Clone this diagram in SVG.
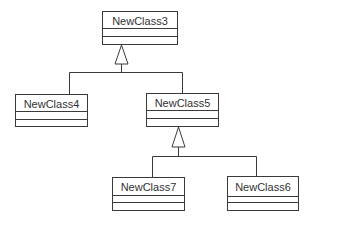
<svg xmlns="http://www.w3.org/2000/svg" width="337" height="237" viewBox="0 0 337 237">
<style>
.box{fill:#fff;stroke:#3a3a3a;stroke-width:1}
.sep{stroke:#3a3a3a;stroke-width:1}
.lbl{font-family:"Liberation Sans",Arial,sans-serif;font-size:11px;fill:#333;text-anchor:middle}
.edge{fill:none;stroke:#3a3a3a;stroke-width:1}
.tri{fill:#fff;stroke:#3a3a3a;stroke-width:1}
</style>
<rect width="337" height="237" fill="#fff"/>
<g id="connectors">
<path class="edge" d="M121.5 64 V72.5 M69.5 94.5 V72.5 H182.5 V93.5"/>
<polygon class="tri" points="121.5,45 115,64 128,64"/>
<path class="edge" d="M178.5 147 V156.5 M152.5 177.5 V156.5 H256.5 V176.5"/>
<polygon class="tri" points="178.5,127 172,147 185,147"/>
</g>
<g id="NewClass3">
<rect class="box" x="102.5" y="11.5" width="75" height="33"/>
<line class="sep" x1="102.5" y1="28.5" x2="177.5" y2="28.5"/>
<line class="sep" x1="102.5" y1="36.5" x2="177.5" y2="36.5"/>
<text class="lbl" x="140" y="25">NewClass3</text>
</g>
<g id="NewClass4">
<rect class="box" x="15.5" y="94.5" width="72" height="32"/>
<line class="sep" x1="15.5" y1="111.5" x2="87.5" y2="111.5"/>
<line class="sep" x1="15.5" y1="119.5" x2="87.5" y2="119.5"/>
<text class="lbl" x="51.5" y="108">NewClass4</text>
</g>
<g id="NewClass5">
<rect class="box" x="146.5" y="93.5" width="72" height="33"/>
<line class="sep" x1="146.5" y1="110.5" x2="218.5" y2="110.5"/>
<line class="sep" x1="146.5" y1="118.5" x2="218.5" y2="118.5"/>
<text class="lbl" x="182.5" y="107">NewClass5</text>
</g>
<g id="NewClass7">
<rect class="box" x="112.5" y="177.5" width="72" height="33"/>
<line class="sep" x1="112.5" y1="195.5" x2="184.5" y2="195.5"/>
<line class="sep" x1="112.5" y1="202.5" x2="184.5" y2="202.5"/>
<text class="lbl" x="148.5" y="191">NewClass7</text>
</g>
<g id="NewClass6">
<rect class="box" x="227.5" y="176.5" width="71" height="34"/>
<line class="sep" x1="227.5" y1="196.5" x2="298.5" y2="196.5"/>
<line class="sep" x1="227.5" y1="202.5" x2="298.5" y2="202.5"/>
<text class="lbl" x="263" y="191">NewClass6</text>
</g>
</svg>
